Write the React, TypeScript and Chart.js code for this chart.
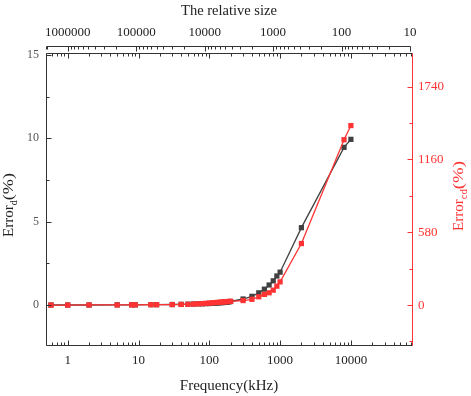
import React, { useEffect, useRef } from 'react';
import { Chart, registerables } from 'chart.js';

Chart.register(...registerables);

// ---------- data ----------
const frequencyKHz = [0.58, 1, 2, 5, 8, 9, 15, 18, 30, 40, 50, 60, 70, 80, 90, 100, 110, 120, 130, 140, 150, 160, 170, 180, 190, 200, 300, 400, 500, 600, 700, 800, 900, 1000, 2000, 8000, 10000];
const errorD = [0, 0, 0, 0.01, 0.01, 0.01, 0.02, 0.02, 0.03, 0.04, 0.05, 0.06, 0.07, 0.07, 0.08, 0.09, 0.1, 0.11, 0.12, 0.13, 0.14, 0.15, 0.16, 0.17, 0.19, 0.21, 0.36, 0.52, 0.73, 0.95, 1.2, 1.45, 1.74, 1.97, 4.64, 9.46, 9.94];
const errorCd = [0, 0, 1, 1, 2, 2, 3, 3, 4, 5, 6, 8, 10, 12, 14, 16, 18, 20, 21, 23, 24, 26, 27, 28, 29, 30, 36, 46, 66, 85, 98, 119, 151, 185, 490, 1317, 1430];

const leftTicks = [0, 5, 10, 15];
const rightTicks = [0, 580, 1160, 1740];
const bottomLabels = [1, 10, 100, 1000, 10000];
const topLabels = [1000000, 100000, 10000, 1000, 100, 10];

const X_MIN = 0.4936;
const X_MAX = 72950;
const X2_MIN = 9.35;
const X2_MAX = 2.076e6;
const Y_MIN = -2.4;
const Y_MAX = 15.06;
const Y2_MIN = -318;
const Y2_MAX = 2000;

const FONT = "'Liberation Serif', 'Times New Roman', Times, serif";
const BLACK = '#404040';
const RED = '#ff3333';
const AXIS = '#333333';

function logGrid(lo: number, hi: number): number[] {
  const out: number[] = [];
  for (let e = Math.floor(Math.log10(lo)); e <= Math.ceil(Math.log10(hi)); e++) {
    for (let m = 1; m <= 9; m++) {
      const v = parseFloat((m * Math.pow(10, e)).toPrecision(10));
      if (v >= lo && v <= hi) out.push(v);
    }
  }
  return out;
}
const isDecade = (v: number) => Math.abs(Math.log10(v) - Math.round(Math.log10(v))) < 1e-9;
const near = (a: number[], v: number) => a.some((t) => Math.abs(t - v) / Math.max(1, Math.abs(t)) < 1e-9);

type Part = { text: string; sub?: boolean; sx?: number };

function drawRotatedRich(ctx: CanvasRenderingContext2D, parts: Part[], baseX: number, cy: number, size: number, color: string) {
  ctx.save();
  ctx.fillStyle = color;
  ctx.textBaseline = 'alphabetic';
  ctx.textAlign = 'left';
  const widths = parts.map((p) => {
    ctx.font = `${p.sub ? size * 0.72 : size}px ${FONT}`;
    return ctx.measureText(p.text).width * (p.sx || 1);
  });
  const total = widths.reduce((a, b) => a + b, 0);
  ctx.translate(baseX, cy);
  ctx.rotate(-Math.PI / 2);
  let cur = -total / 2;
  parts.forEach((p, i) => {
    ctx.save();
    ctx.translate(cur, p.sub ? size * 0.28 : 0);
    ctx.scale(p.sx || 1, 1);
    ctx.font = `${p.sub ? size * 0.72 : size}px ${FONT}`;
    ctx.fillText(p.text, 0, 0);
    ctx.restore();
    cur += widths[i];
  });
  ctx.restore();
}

const framePlugin = {
  id: 'frame',
  afterDraw(chart: any) {
    const { ctx, chartArea: a, scales } = chart;
    const xs = scales.x;
    const x2s = scales.x2;
    const ys = scales.y;
    const y2s = scales.y2;
    const xl = Math.round(a.left) + 0.5;
    const xr = Math.round(a.right) + 0.5;
    const yt = Math.round(a.top) - 0.5;
    const yb = Math.round(a.bottom) + 0.5;
    const yAx = yt - 7;

    const seg = (x1: number, y1: number, x2: number, y2: number) => {
      ctx.beginPath();
      ctx.moveTo(x1, y1);
      ctx.lineTo(x2, y2);
      ctx.stroke();
    };

    ctx.save();
    ctx.lineWidth = 1;
    ctx.strokeStyle = AXIS;
    seg(xl, yt, xl, yb);
    seg(xl, yb, xr, yb);
    seg(xl, yt, xr, yt);

    xs.ticks.forEach((t: any) => {
      const px = Math.round(xs.getPixelForValue(t.value)) + 0.5;
      const len = isDecade(t.value) ? 5 : 3;
      seg(px, yb, px, yb - len);
      seg(px, yt, px, yt + len);
    });

    const xEnd = Math.round(x2s.getPixelForValue(10)) + 0.5;
    seg(xl, yAx, xEnd, yAx);
    seg(xl, yAx, xl, yAx + 3);
    x2s.ticks.forEach((t: any) => {
      const px = Math.round(x2s.getPixelForValue(t.value)) + 0.5;
      const len = isDecade(t.value) ? 5 : 3;
      seg(px, yAx, px, yAx + len);
    });

    for (let v = -2.5; v <= Y_MAX + 1e-9; v += 2.5) {
      if (v < Y_MIN) continue;
      const py = Math.round(ys.getPixelForValue(v)) + 0.5;
      const len = Math.abs(v % 5) < 1e-9 ? 5 : 3;
      seg(xl, py, xl + len, py);
    }

    ctx.strokeStyle = RED;
    seg(xr, yt, xr, yb);
    for (let v = -290; v <= Y2_MAX; v += 290) {
      if (v < Y2_MIN) continue;
      const py = Math.round(y2s.getPixelForValue(v)) + 0.5;
      const len = Math.abs(v % 580) < 1e-9 ? 5 : 3;
      seg(xr, py, xr - len, py);
    }
    ctx.restore();

    drawRotatedRich(ctx, [{ text: 'Error', sx: 1.07 }, { text: 'd', sub: true }, { text: '(%)', sx: 1.3 }], 12.7, 205, 14, '#222222');
    drawRotatedRich(ctx, [{ text: 'Error' }, { text: 'cd', sub: true }, { text: '(%)', sx: 1.25 }], 463, 196, 15, RED);
  },
};

export default function App() {
  const canvasRef = useRef<HTMLCanvasElement | null>(null);

  useEffect(() => {
    const canvas = canvasRef.current;
    if (!canvas) return;
    const chart = new Chart(canvas, {
      type: 'line',
      data: {
        datasets: [
          {
            label: 'Error_cd',
            data: frequencyKHz.map((f, i) => ({ x: f, y: errorCd[i] })),
            xAxisID: 'x',
            yAxisID: 'y2',
            borderColor: RED,
            backgroundColor: RED,
            borderWidth: 1.3,
            pointStyle: 'rect',
            pointRadius: 3.7,
            pointBorderWidth: 0,
            pointBackgroundColor: RED,
            tension: 0,
          },
          {
            label: 'Error_d',
            data: frequencyKHz.map((f, i) => ({ x: f, y: errorD[i] })),
            xAxisID: 'x',
            yAxisID: 'y',
            borderColor: BLACK,
            backgroundColor: BLACK,
            borderWidth: 1.3,
            pointStyle: 'rect',
            pointRadius: 3.7,
            pointBorderWidth: 0,
            pointBackgroundColor: BLACK,
            tension: 0,
          },
        ],
      },
      options: {
        animation: false,
        responsive: false,
        layout: { padding: 0 },
        plugins: { legend: { display: false }, tooltip: { enabled: false } },
        scales: {
          x: {
            type: 'logarithmic',
            position: 'bottom',
            min: X_MIN,
            max: X_MAX,
            bounds: 'data',
            grid: { display: false, drawTicks: false },
            border: { display: false },
            afterBuildTicks: (s: any) => {
              s.ticks = logGrid(X_MIN, X_MAX).map((v) => ({ value: v }));
            },
            afterFit: (s: any) => {
              s.height = 51;
            },
            ticks: {
              autoSkip: false,
              maxRotation: 0,
              padding: 8,
              color: '#222222',
              font: { family: FONT, size: 13 },
              callback: (v: any) => (near(bottomLabels, Number(v)) ? String(Math.round(Number(v))) : ''),
            },
            title: {
              display: true,
              text: 'Frequency(kHz)',
              color: '#222222',
              font: { family: FONT, size: 15 },
              padding: { top: 0, bottom: 1 },
            },
          },
          x2: {
            type: 'logarithmic',
            position: 'top',
            reverse: true,
            min: X2_MIN,
            max: X2_MAX,
            bounds: 'data',
            grid: { display: false, drawTicks: false },
            border: { display: false },
            afterBuildTicks: (s: any) => {
              s.ticks = logGrid(X2_MIN, X2_MAX).map((v) => ({ value: v }));
            },
            afterFit: (s: any) => {
              s.height = 54;
            },
            ticks: {
              autoSkip: false,
              maxRotation: 0,
              padding: 14,
              color: '#222222',
              font: { family: FONT, size: 13 },
              callback: (v: any) => (near(topLabels, Number(v)) ? String(Math.round(Number(v))) : ''),
            },
            title: {
              display: true,
              text: 'The relative size',
              color: '#222222',
              font: { family: FONT, size: 14.5 },
              padding: { top: 2, bottom: 0 },
            },
          },
          y: {
            type: 'linear',
            position: 'left',
            min: Y_MIN,
            max: Y_MAX,
            grid: { display: false, drawTicks: false },
            border: { display: false },
            afterBuildTicks: (s: any) => {
              s.ticks = leftTicks.map((v) => ({ value: v }));
            },
            afterFit: (s: any) => {
              s.width = 46;
            },
            ticks: {
              padding: 7,
              color: '#555555',
              font: { family: FONT, size: 12 },
              callback: (v: any) => String(v),
            },
          },
          y2: {
            type: 'linear',
            position: 'right',
            min: Y2_MIN,
            max: Y2_MAX,
            grid: { display: false, drawTicks: false },
            border: { display: false },
            afterBuildTicks: (s: any) => {
              s.ticks = rightTicks.map((v) => ({ value: v }));
            },
            afterFit: (s: any) => {
              s.width = 59;
            },
            ticks: {
              padding: 6,
              color: RED,
              font: { family: FONT, size: 13 },
              callback: (v: any) => String(v),
            },
          },
        },
      } as any,
      plugins: [framePlugin],
    });
    return () => chart.destroy();
  }, []);

  return (
    <div style={{ position: 'fixed', left: 0, top: 0, width: 471, height: 396, background: '#ffffff' }}>
      <canvas ref={canvasRef} width={471} height={396} style={{ width: 471, height: 396, display: 'block' }} />
    </div>
  );
}
